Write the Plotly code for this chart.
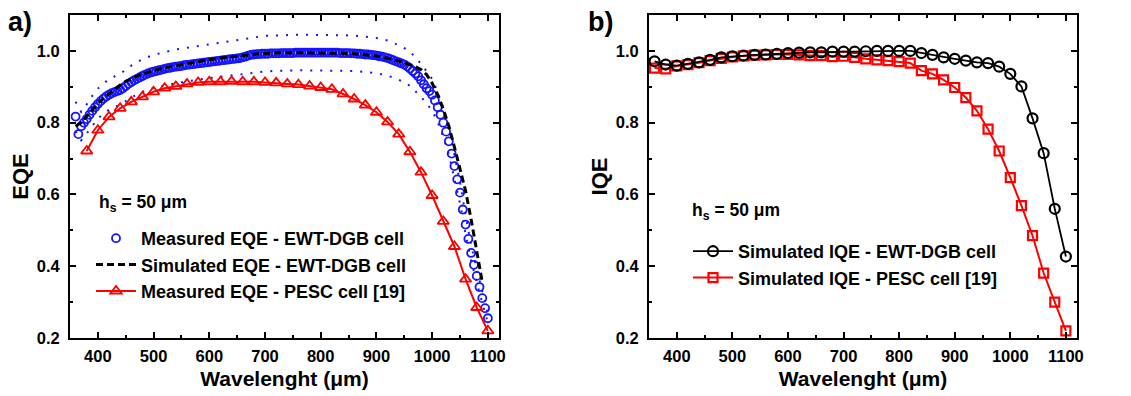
import plotly.graph_objects as go

# ---------------- data ----------------
# panel a) measured EQE, EWT-DGB cell (blue circles, 5 nm step)
wl_meas = list(range(360, 1105, 5))
eqe_meas = [
    0.817, 0.768, 0.790, 0.800, 0.810, 0.822, 0.833, 0.843, 0.852, 0.860,
    0.867, 0.873, 0.878, 0.882, 0.885, 0.888, 0.891, 0.896, 0.902, 0.908,
    0.913, 0.918, 0.922, 0.926, 0.930, 0.934, 0.937, 0.940, 0.942, 0.944,
    0.946, 0.948, 0.950, 0.952, 0.953, 0.955, 0.956, 0.957, 0.958, 0.960,
    0.961, 0.962, 0.963, 0.964, 0.965, 0.966, 0.967, 0.968, 0.969, 0.970,
    0.971, 0.972, 0.973, 0.974, 0.975, 0.976, 0.977, 0.978, 0.979, 0.980,
    0.982, 0.984, 0.987, 0.989, 0.990, 0.991, 0.991, 0.992, 0.992, 0.992,
    0.993, 0.993, 0.993, 0.993, 0.994, 0.994, 0.994, 0.994, 0.994, 0.995,
    0.995, 0.995, 0.995, 0.995, 0.995, 0.995, 0.995, 0.995, 0.995, 0.995,
    0.995, 0.995, 0.995, 0.995, 0.995, 0.994, 0.994, 0.994, 0.994, 0.993,
    0.993, 0.992, 0.992, 0.991, 0.990, 0.990, 0.989, 0.988, 0.987, 0.985,
    0.984, 0.982, 0.980, 0.977, 0.974, 0.971, 0.968, 0.965, 0.962, 0.957,
    0.951, 0.944, 0.937, 0.929, 0.918, 0.907, 0.896, 0.888, 0.878, 0.862,
    0.843, 0.822, 0.800, 0.775, 0.748, 0.714, 0.679, 0.642, 0.605, 0.558,
    0.516, 0.476, 0.437, 0.404, 0.373, 0.342, 0.311, 0.283, 0.255,
]

# error band of the measurement (blue dotted)
wl_band = [360, 370, 380, 390, 400, 420, 440, 460, 480, 500, 540, 580, 620, 660,
           700, 760, 820, 860, 900, 920, 940, 960, 980, 1000, 1010, 1020, 1030,
           1040, 1050, 1060, 1070, 1080, 1090, 1100]
eqe_upper = [0.858, 0.830, 0.851, 0.875, 0.895, 0.922, 0.936, 0.959, 0.977, 0.989,
             1.004, 1.013, 1.022, 1.031, 1.042, 1.045, 1.045, 1.043, 1.036, 1.029,
             1.016, 0.999, 0.964, 0.922, 0.885, 0.840, 0.785, 0.713, 0.635, 0.542,
             0.459, 0.392, 0.327, 0.268]
eqe_lower = [0.776, 0.751, 0.770, 0.791, 0.812, 0.836, 0.850, 0.870, 0.886, 0.897,
             0.910, 0.920, 0.927, 0.935, 0.943, 0.946, 0.946, 0.944, 0.938, 0.931,
             0.920, 0.903, 0.872, 0.834, 0.801, 0.760, 0.711, 0.645, 0.575, 0.490,
             0.415, 0.354, 0.295, 0.242]

# simulated EQE, EWT-DGB cell (black dashed, 10 nm step)
wl_sim = list(range(360, 1100, 10))
eqe_sim = [
    0.790, 0.800, 0.818, 0.836, 0.853, 0.868, 0.881, 0.893, 0.905, 0.915,
    0.923, 0.930, 0.936, 0.941, 0.945, 0.949, 0.953, 0.956, 0.959, 0.962,
    0.965, 0.968, 0.971, 0.973, 0.976, 0.978, 0.980, 0.982, 0.984, 0.986,
    0.988, 0.990, 0.991, 0.992, 0.993, 0.994, 0.994, 0.995, 0.995, 0.995,
    0.995, 0.995, 0.995, 0.995, 0.995, 0.995, 0.995, 0.994, 0.994, 0.993,
    0.992, 0.991, 0.990, 0.988, 0.986, 0.983, 0.980, 0.976, 0.972, 0.967,
    0.962, 0.956, 0.948, 0.934, 0.910, 0.878, 0.838, 0.790, 0.732, 0.670,
    0.610, 0.530, 0.440, 0.355,
]

# measured EQE, PESC cell [19] (red triangles, 20 nm step)
wl_pesc = list(range(380, 1120, 20))
eqe_pesc = [
    0.721, 0.779, 0.816, 0.840, 0.858, 0.872, 0.886, 0.896, 0.901, 0.908,
    0.912, 0.914, 0.914, 0.915, 0.914, 0.914, 0.912, 0.911, 0.908, 0.906,
    0.902, 0.898, 0.893, 0.880, 0.866, 0.849, 0.829, 0.802, 0.768, 0.719,
    0.662, 0.597, 0.525, 0.455, 0.364, 0.285, 0.220,
]

# panel b) simulated IQE (20 nm step)
wl_iqe = list(range(360, 1120, 20))
iqe_ewt = [
    0.971, 0.962, 0.959, 0.964, 0.968, 0.975, 0.982, 0.985, 0.987, 0.989,
    0.990, 0.992, 0.994, 0.995, 0.996, 0.996, 0.998, 0.998, 0.998, 0.999,
    1.000, 1.000, 1.000, 1.000, 0.994, 0.989, 0.982, 0.978, 0.973, 0.968,
    0.966, 0.956, 0.936, 0.901, 0.812, 0.715, 0.560, 0.427,
]
iqe_pesc = [
    0.952, 0.950, 0.958, 0.962, 0.967, 0.973, 0.979, 0.983, 0.986, 0.988,
    0.989, 0.990, 0.990, 0.989, 0.987, 0.987, 0.984, 0.985, 0.982, 0.978,
    0.975, 0.973, 0.970, 0.966, 0.945, 0.936, 0.919, 0.898, 0.870, 0.833,
    0.782, 0.721, 0.647, 0.569, 0.485, 0.381, 0.300, 0.220,
]

x_tickvals = [400, 500, 600, 700, 800, 900, 1000, 1100]
y_tickvals = [0.2, 0.4, 0.6, 0.8, 1.0]

# ---------------- styling ----------------
FONT = "Liberation Sans, Arial, sans-serif"
BLUE = "#1414ff"
RED = "#ff0000"
BLACK = "#000000"
W, H = 1131, 396

fig = go.Figure()

# panel a
fig.add_trace(go.Scatter(x=wl_band, y=eqe_upper, mode="lines", showlegend=False,
                         line=dict(color=BLUE, width=2, dash="2px,8px"),
                         xaxis="x", yaxis="y", hoverinfo="skip"))
fig.add_trace(go.Scatter(x=wl_band, y=eqe_lower, mode="lines", showlegend=False,
                         line=dict(color=BLUE, width=2, dash="2px,8px"),
                         xaxis="x", yaxis="y", hoverinfo="skip"))
fig.add_trace(go.Scatter(x=wl_meas, y=eqe_meas, mode="markers",
                         name="Measured EQE - EWT-DGB cell",
                         marker=dict(symbol="circle-open", size=8, color=BLUE,
                                     line=dict(width=1.8, color=BLUE)),
                         xaxis="x", yaxis="y", legend="legend"))
fig.add_trace(go.Scatter(x=wl_sim, y=eqe_sim, mode="lines",
                         name="Simulated EQE - EWT-DGB cell",
                         line=dict(color=BLACK, width=3, dash="7px,4px"),
                         xaxis="x", yaxis="y", legend="legend"))
fig.add_trace(go.Scatter(x=wl_pesc, y=eqe_pesc, mode="lines+markers",
                         name="Measured EQE - PESC cell [19]",
                         line=dict(color=RED, width=2),
                         marker=dict(symbol="triangle-up-open", size=10, color=RED,
                                     line=dict(width=1.8, color=RED)),
                         xaxis="x", yaxis="y", legend="legend"))

# panel b
fig.add_trace(go.Scatter(x=wl_iqe, y=iqe_pesc, mode="lines+markers",
                         name="Simulated IQE - PESC cell [19]",
                         line=dict(color=RED, width=2),
                         marker=dict(symbol="square-open", size=9, color=RED,
                                     line=dict(width=2.2, color=RED)),
                         xaxis="x2", yaxis="y2", legend="legend2", legendrank=2))
fig.add_trace(go.Scatter(x=wl_iqe, y=iqe_ewt, mode="lines+markers",
                         name="Simulated IQE - EWT-DGB cell",
                         line=dict(color=BLACK, width=1.8),
                         marker=dict(symbol="circle-open", size=10, color=BLACK,
                                     line=dict(width=2.2, color=BLACK)),
                         xaxis="x2", yaxis="y2", legend="legend2", legendrank=1))

tickfont = dict(family=FONT, size=16.5, color=BLACK, weight="bold")
titlefont = dict(family=FONT, size=21, color=BLACK, weight="bold")
legfont = dict(family=FONT, size=18, color=BLACK, weight="bold")
notefont = dict(family=FONT, size=17.5, color=BLACK, weight="bold")
panelfont = dict(family=FONT, size=27, color=BLACK, weight="bold")


def xaxis(domain, anchor):
    return dict(domain=domain, anchor=anchor, range=[350, 1120],
                tickvals=x_tickvals, ticks="inside", ticklen=6, tickwidth=1.5,
                tickcolor=BLACK, showline=True, linecolor=BLACK, linewidth=1.8,
                mirror="allticks", showgrid=False, zeroline=False,
                tickfont=tickfont, automargin=False, ticklabelstandoff=2,
                minor=dict(dtick=50, tick0=350, ticks="inside", ticklen=3.5,
                           tickwidth=1.5, tickcolor=BLACK, showgrid=False),
                title=dict(text="Wavelenght (μm)", font=titlefont, standoff=8))


def yaxis(domain, anchor, title):
    return dict(domain=domain, anchor=anchor, range=[0.2, 1.1],
                tickvals=y_tickvals, tickformat=".1f", ticks="inside", ticklen=6,
                tickwidth=1.5, tickcolor=BLACK, showline=True, linecolor=BLACK,
                linewidth=1.8, mirror="allticks", showgrid=False, zeroline=False,
                tickfont=tickfont, automargin=False, ticklabelstandoff=5,
                minor=dict(dtick=0.1, tick0=0.2, ticks="inside", ticklen=3.5,
                           tickwidth=1.5, tickcolor=BLACK, showgrid=False),
                title=dict(text=title, font=dict(family=FONT, size=22, color=BLACK,
                                                 weight="bold"), standoff=2))


ydom = [1 - 338 / H, 1 - 15 / H]
fig.update_layout(
    width=W, height=H,
    margin=dict(l=0, r=0, t=0, b=0),
    paper_bgcolor="white", plot_bgcolor="white",
    font=dict(family=FONT, color=BLACK),
    xaxis=xaxis([70 / W, 499 / W], "y"),
    yaxis=yaxis(ydom, "x", "EQE"),
    xaxis2=xaxis([649 / W, 1077 / W], "y2"),
    yaxis2=yaxis(ydom, "x2", "IQE"),
    legend=dict(x=91 / W, y=1 - 220 / H, xanchor="left", yanchor="top",
                bgcolor="rgba(0,0,0,0)", borderwidth=0, itemwidth=40,
                tracegroupgap=0, font=legfont),
    legend2=dict(x=688 / W, y=1 - 233 / H, xanchor="left", yanchor="top",
                 bgcolor="rgba(0,0,0,0)", borderwidth=0, itemwidth=40,
                 tracegroupgap=0, font=legfont),
    showlegend=True,
    annotations=[
        dict(text="a)", x=6 / W, y=1 - 22 / H, xref="paper", yref="paper",
             xanchor="left", yanchor="middle", showarrow=False, font=panelfont),
        dict(text="b)", x=586 / W, y=1 - 22 / H, xref="paper", yref="paper",
             xanchor="left", yanchor="middle", showarrow=False, font=panelfont),
        dict(text="h<sub>s</sub> = 50 μm", x=97 / W, y=1 - 203 / H, xref="paper",
             yref="paper", xanchor="left", yanchor="middle", showarrow=False,
             font=notefont),
        dict(text="h<sub>s</sub> = 50 μm", x=690 / W, y=1 - 211 / H, xref="paper",
             yref="paper", xanchor="left", yanchor="middle", showarrow=False,
             font=notefont),
    ],
)

fig.write_html("out.html")
